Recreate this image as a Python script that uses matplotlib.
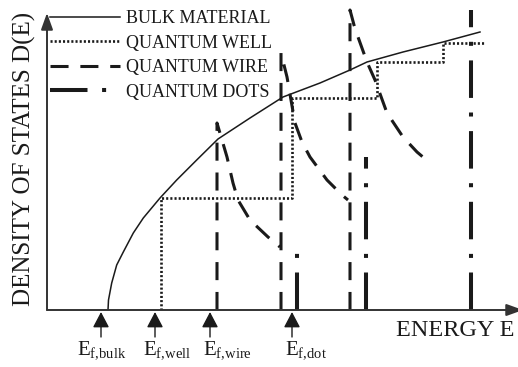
import matplotlib
matplotlib.use('Agg')
import matplotlib.pyplot as plt

plt.rcParams['font.family'] = 'Liberation Serif'
plt.rcParams['mathtext.fontset'] = 'custom'
plt.rcParams['mathtext.rm'] = 'Liberation Serif'
plt.rcParams['lines.scale_dashes'] = False

# energy / density of states in arbitrary units
bulk_E = [61, 61.5, 64.7, 69.7, 76.3, 86.3, 96.3, 113, 129.7, 149.7, 171, 203, 236, 273, 303, 320, 356, 396, 433]
bulk_D = [0, 10, 27, 45, 58, 77, 92, 112, 130, 150, 171, 192, 213, 227, 240, 248, 258, 268, 278]

well_E = [114, 114, 245, 330, 396, 438]
well_D = [0, 112, 212, 248, 267, 267]

wire_edges = [170, 234, 303]
wire_peaks = [187, 257, 300]
wire_tail_E = [[180, 186, 191, 203, 221, 233],
               [240, 244, 248, 255, 263, 280, 295, 301],
               [307, 311, 320, 328, 340, 356, 370, 383]]
wire_tail_D = [[153, 127, 110, 90, 73, 63],
               [233, 210, 187, 168, 153, 130, 115, 110],
               [285, 273, 248, 230, 197, 173, 158, 147]]

dot_E = [250, 319, 424]
dot_D = [57, 153, 300]

fermi_E = [54, 108, 163, 245]
fermi_labels = [r'E$_{\mathrm{f{,}bulk}}$', r'E$_{\mathrm{f{,}well}}$',
                r'E$_{\mathrm{f{,}wire}}$', r'E$_{\mathrm{f{,}dot}}$']
label_left_px = [77, 143, 203, 285]

legend_labels = ['BULK MATERIAL', 'QUANTUM WELL', 'QUANTUM WIRE', 'QUANTUM DOTS']

ink = '#1a1a1a'
W, H = 518, 367

fig = plt.figure(figsize=(W / 100, H / 100), dpi=100)
ax = fig.add_axes([47 / W, 57 / H, 471 / W, 310 / H])
ax.set_xlim(0, 471)
ax.set_ylim(0, 310)
ax.axis('off')

bulk, = ax.plot(bulk_E, bulk_D, color=ink, lw=1.1)
well, = ax.step(well_E, well_D, where='post', color=ink, lw=1.9,
                linestyle=(0, (1.5, 1.5)), dash_capstyle='butt')

wire_style = dict(color=ink, lw=2.2, linestyle=(0, (13, 8.5)), dash_capstyle='butt')
for i in range(3):
    xs = [wire_edges[i], wire_edges[i]] + wire_tail_E[i]
    ys = [0, wire_peaks[i]] + wire_tail_D[i]
    wire, = ax.plot(xs, ys, **wire_style)

dot_style = dict(color=ink, lw=2.9, linestyle=(0, (27, 10.5, 2.9, 10.5)), dash_capstyle='butt')
for e, d in zip(dot_E, dot_D):
    dot, = ax.plot([e, e], [0, d], **dot_style)

# axes with arrow heads
axis_arrow = dict(arrowstyle='-|>,head_length=1.0,head_width=0.36', lw=1.4,
                  color='#333333', shrinkA=0, shrinkB=0, mutation_scale=10)
ax.annotate('', xy=(0, 297), xytext=(0, 0), arrowprops=axis_arrow, annotation_clip=False)
ax.annotate('', xy=(476, 0), xytext=(0, 0), arrowprops=axis_arrow, annotation_clip=False)

fermi_arrow = dict(arrowstyle='-|>,head_length=0.95,head_width=0.5', lw=1.0,
                   color=ink, shrinkA=0, shrinkB=0, mutation_scale=10)
for e in fermi_E:
    ax.annotate('', xy=(e, -2), xytext=(e, -27), arrowprops=fermi_arrow, annotation_clip=False)

for lab, xp in zip(fermi_labels, label_left_px):
    fig.text(xp / W, 1 - 355 / H, lab, fontsize=15, ha='left', va='baseline', color=ink)

fig.text(24 / W, 1 - 159 / H, 'DENSITY OF STATES D(E)', rotation=90, fontsize=18,
         ha='center', va='center', color=ink)
fig.text(514 / W, 1 - 331 / H, 'ENERGY E', fontsize=17.5, ha='right', va='center', color=ink)

leg = ax.legend([bulk, well, wire, dot], legend_labels, loc='upper left',
                bbox_to_anchor=(50 / W, 1 - 10 / H), bbox_transform=fig.transFigure,
                frameon=False, fontsize=13, handlelength=3.9, handletextpad=0.3,
                labelspacing=0.42, borderpad=0, borderaxespad=0)
for t in leg.get_texts():
    t.set_color(ink)

fig.savefig('out.png', dpi=100)
